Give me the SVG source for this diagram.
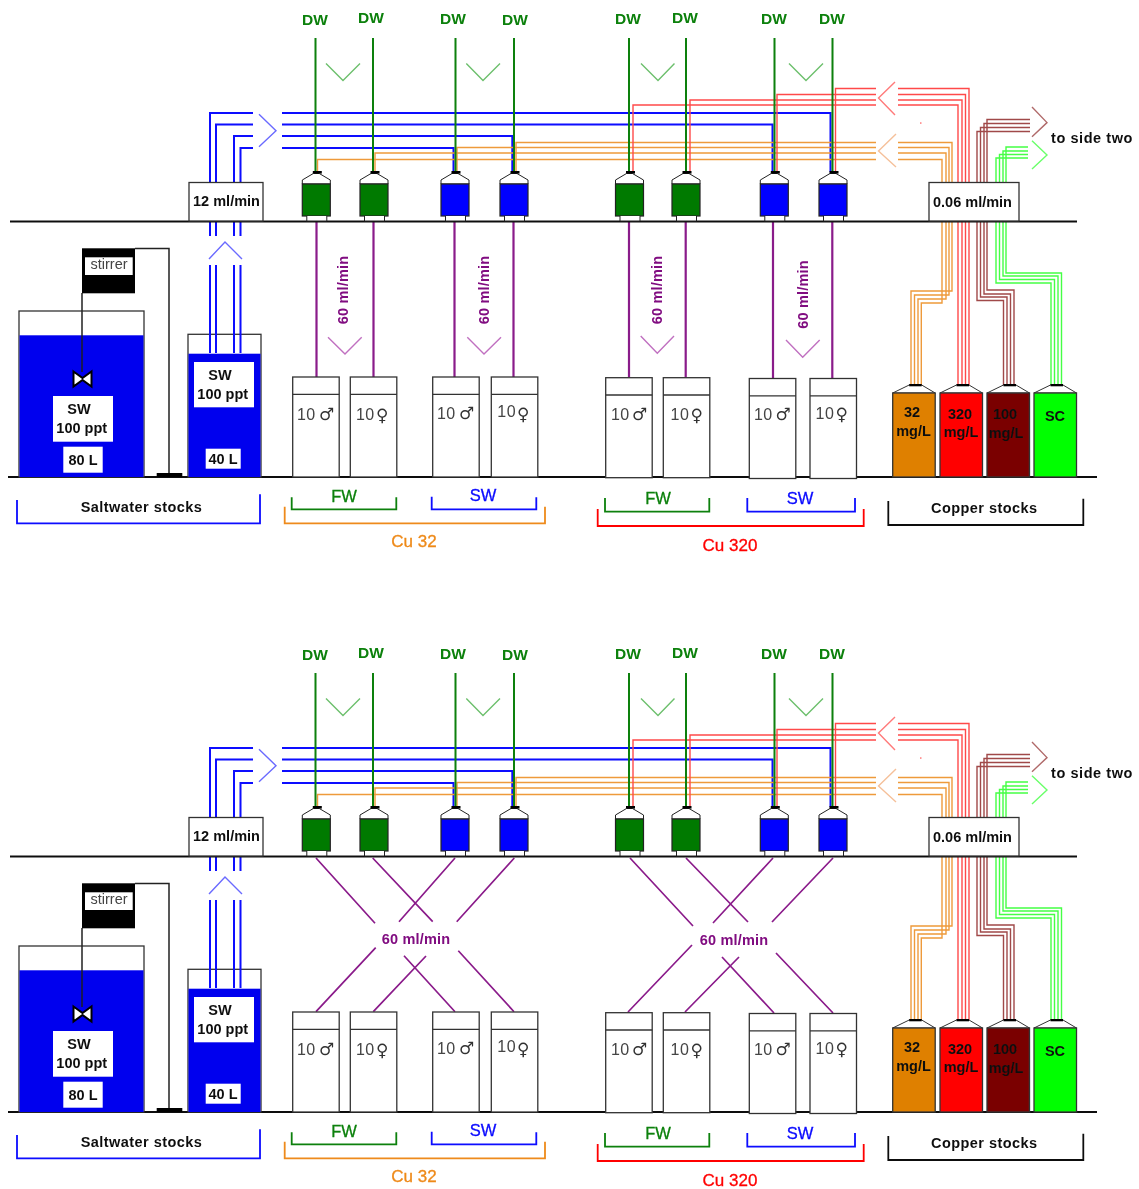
<svg xmlns="http://www.w3.org/2000/svg" width="1139" height="1189" viewBox="0 0 1139 1189">
<style>
text{font-family:"Liberation Sans",Arial,sans-serif;text-anchor:middle}
.b{font-weight:bold;font-size:14.5px;fill:#111}
.lab{letter-spacing:.45px}
.side{letter-spacing:.55px}
.dw{font-size:15.5px;font-weight:bold;fill:#0a800a}
.pt{font-size:14.5px;font-weight:bold;fill:#800a80;letter-spacing:.2px}
.sx{font-size:16px;fill:#444;letter-spacing:.5px}
.sy{font-family:"DejaVu Sans",sans-serif;font-size:17px;fill:#333}
.fw{font-size:16.5px;fill:#0a800a;stroke:#0a800a;stroke-width:.3}
.sw{font-size:16.5px;fill:#0a0aff;stroke:#0a0aff;stroke-width:.3}
.cu{font-size:17px;stroke-width:.3}
.w{fill:#fff;stroke:none}
.k{fill:none;stroke:#222;stroke-width:1.5}
.gnd{fill:none;stroke:#111;stroke-width:2}
.bl{fill:none;stroke:#0a0aff;stroke-width:2}
.or{fill:none;stroke:#ee9a3a;stroke-width:1.4}
.re{fill:none;stroke:#ff4a4a;stroke-width:1.4}
.br{fill:none;stroke:#a04848;stroke-width:1.4}
.gr{fill:none;stroke:#44ff44;stroke-width:1.4}
.dwl{fill:none;stroke:#0a800a;stroke-width:2}
.pu{fill:none;stroke:#8a1a8a;stroke-width:2.2}
.pud{fill:none;stroke:#8a1a8a;stroke-width:1.7}
.ch{fill:none;stroke-width:1.4}
.brk{fill:none;stroke-width:1.8}
</style>
<defs>
<filter id="soft" x="0" y="0" width="100%" height="100%"><feGaussianBlur stdDeviation="0.45"/></filter>
<g id="hdr">
<path d="M0 12V8L11 1.500H17L28 8V12Z" fill="#fff" stroke="#222" stroke-width="1"/>
<rect x="10.500" y="-1" width="9" height="2.600" fill="#000"/>
<rect x="0" y="12" width="28" height="32" stroke="#222" stroke-width="1.200"/>
<path d="M4.500 44V49H24.500V44" fill="#fff" stroke="#222" stroke-width="1"/>
</g>
<g id="fish">
<rect x="0" y="0" width="46.500" height="100" fill="#fff" stroke="#333" stroke-width="1.300"/>
<path d="M0 17.300H46.500" stroke="#333" stroke-width="1.300"/>
</g>
<g id="stock">
<path d="M0 9L16.500 1H29L42.500 9Z" fill="#fff" stroke="#333" stroke-width="1"/>
<rect x="16.500" y="0" width="12.500" height="2.300" fill="#000"/>
<rect x="0" y="9" width="42.500" height="84" stroke="#333" stroke-width="1.300"/>
</g>
</defs>
<g filter="url(#soft)">
<rect width="1139" height="1189" fill="#fff"/>

<g id="side-one">
<g id="connectors-1">
<path class="bl" d="M210 236V113H253M216 236V124.500H253M234 236V136H253M240.500 236V148H253"/>
<path class="bl" d="M282 113H830.500V172M282 124.500H772.500V172M282 136H512.300V172M282 148H453.500V172"/>
<path class="or" d="M876 142.500H516V172M876 147.500H457V172M876 153H375V172M876 159.500H317.500V172"/>
<path class="or" d="M898 142.500H952V291H911V385M898 147.500H949V295H914.500V385M898 153H946V299H918V385M898 159.500H942V303H921.300V385"/>
<path class="re" d="M876 88.500H835.500V172M876 94.500H777V172M876 100H690V172M876 105H633V172"/>
<path class="re" d="M898 88.500H969V385M898 94.500H965.500V385M898 100H962V385M898 105H958V385"/>
<path class="br" d="M1030 119.500H987V290H1014V385M1030 123.500H984V294H1010.500V385M1030 127.500H980.500V297H1007V385M1030 131.500H977V300.500H1003.500V385"/>
<path class="gr" d="M1028 147H1006V273H1061.500V385M1028 151H1003V276H1058V385M1028 154.500H999.500V279.500H1054.500V385M1028 158H996V283H1051V385"/>
<path class="dwl" d="M315.500 38V172M373 38V172M455.500 38V172M514 38V172M629 38V172M686 38V172M774.500 38V172M832.500 38V172"/>
<path class="pu" d="M316.500 222V377M373.500 222V377M454.500 222V377M513.500 222V377M629 222V377M685.700 222V377M773 222V378M832.300 222V378"/>
<path class="ch" stroke="#6cbf6c" d="M326 63.500L343 80.500L360 63.500M466.300 63.500L483 80.500L500 63.500M641 63.500L658 80.500L674.500 63.500M789 63.500L806 80.500L823 63.500"/>
<path class="ch" stroke="#c070c0" d="M328 337.300L345 354L361.700 337.300M467.300 337.300L484 354L501 337.300M640.700 336L657.300 353.300L674 336M786 340L802.700 357.300L819.700 340"/>
<path class="ch" stroke="#6a6aff" d="M259 114.300L276 130.700L259 146.700M209 259L225 242L242 259"/>
<path class="ch" stroke="#ff7a7a" d="M895 82L878.500 98L895 115"/>
<path class="ch" stroke="#f5c09a" d="M896 134L878.500 151L896 167"/>
<path class="ch" stroke="#b06a6a" d="M1032 107L1047 122.600L1032 136.700"/>
<path class="ch" stroke="#6aff6a" d="M1032 140.700L1047 155L1032 169"/>
<rect x="920" y="122.300" width="1.500" height="1.500" fill="#ff7a7a"/>
</g>
<path id="floor-upper-1" class="gnd" d="M10 221.500H1077"/>
<path id="floor-lower-1" class="gnd" d="M8 477H1097"/>

<g id="dw-labels-1">
<text class="dw" x="315" y="25">DW</text><text class="dw" x="371" y="22.700">DW</text><text class="dw" x="453" y="24.300">DW</text><text class="dw" x="515" y="25">DW</text><text class="dw" x="628" y="24.300">DW</text><text class="dw" x="685" y="22.700">DW</text><text class="dw" x="774" y="24.300">DW</text><text class="dw" x="832" y="24.300">DW</text>
</g>
<g id="header-tanks-1">
<g id="h1-1"><use href="#hdr" x="302.300" y="172" fill="#007a00"/></g>
<g id="h1-2"><use href="#hdr" x="360" y="172" fill="#007a00"/></g>
<g id="h1-3"><use href="#hdr" x="441" y="172" fill="#0000ff"/></g>
<g id="h1-4"><use href="#hdr" x="500" y="172" fill="#0000ff"/></g>
<g id="h1-5"><use href="#hdr" x="615.500" y="172" fill="#007a00"/></g>
<g id="h1-6"><use href="#hdr" x="672" y="172" fill="#007a00"/></g>
<g id="h1-7"><use href="#hdr" x="760.300" y="172" fill="#0000ff"/></g>
<g id="h1-8"><use href="#hdr" x="819" y="172" fill="#0000ff"/></g>
</g>
<g id="pump-sw-1"><rect x="189" y="182.500" width="74" height="38.500" fill="#fff" stroke="#333" stroke-width="1.300"/><text class="b" x="226.500" y="205.500">12 ml/min</text></g>
<g id="pump-cu-1"><rect x="929" y="182.500" width="90" height="38.500" fill="#fff" stroke="#333" stroke-width="1.300"/><text class="b" x="972.500" y="206.500">0.06 ml/min</text></g>
<text class="b side" x="1092" y="142.500">to side two</text>

<g id="rates-1">
<text class="pt" transform="translate(348 290) rotate(-90)">60 ml/min</text>
<text class="pt" transform="translate(489 290) rotate(-90)">60 ml/min</text>
<text class="pt" transform="translate(662 290) rotate(-90)">60 ml/min</text>
<text class="pt" transform="translate(808 294.500) rotate(-90)">60 ml/min</text>
</g>
<g id="fish-1">
<g id="f1-1"><use href="#fish" x="292.700" y="377"/><text class="sx" x="306.300" y="420">10</text><text class="sy" x="326.700" y="420">♂</text></g>
<g id="f1-2"><use href="#fish" x="350.300" y="377"/><text class="sx" x="365.300" y="420">10</text><text class="sy" x="382.300" y="421">♀</text></g>
<g id="f1-3"><use href="#fish" x="432.700" y="377"/><text class="sx" x="446.300" y="418.500">10</text><text class="sy" x="466.700" y="419">♂</text></g>
<g id="f1-4"><use href="#fish" x="491.300" y="377"/><text class="sx" x="506.700" y="417.300">10</text><text class="sy" x="523.300" y="419.500">♀</text></g>
<g id="f1-5"><use href="#fish" x="605.700" y="377.700"/><text class="sx" x="620.300" y="420">10</text><text class="sy" x="639.500" y="420">♂</text></g>
<g id="f1-6"><use href="#fish" x="663.300" y="377.700"/><text class="sx" x="680" y="420">10</text><text class="sy" x="696.700" y="421">♀</text></g>
<g id="f1-7"><use href="#fish" x="749.300" y="378.500"/><text class="sx" x="763.300" y="420">10</text><text class="sy" x="783" y="420">♂</text></g>
<g id="f1-8"><use href="#fish" x="810" y="378.500"/><text class="sx" x="825" y="419">10</text><text class="sy" x="841.700" y="420">♀</text></g>
</g>

<g id="sw-big-1">
<rect x="19" y="311" width="125" height="166" fill="#fff" stroke="#333" stroke-width="1.300"/>
<rect x="19.500" y="335.300" width="124" height="141.700" fill="#0000ee"/>
<rect class="w" x="53" y="396" width="60" height="45.700"/><text class="b" x="79" y="414">SW</text><text class="b" x="81.700" y="433.300">100 ppt</text>
<rect class="w" x="63.300" y="446.700" width="39.400" height="26"/><text class="b" x="83" y="465">80 L</text>
</g>
<g id="sw-small-1">
<rect x="188" y="334.300" width="73" height="142.700" fill="#fff" stroke="#333" stroke-width="1.300"/>
<rect x="188.500" y="353.700" width="72" height="123.300" fill="#0000ee"/>
<path class="bl" d="M210 265V353M216 265V353M234 265V353M240.500 265V353"/>
<rect class="w" x="194" y="362" width="60" height="45.300"/><text class="b" x="220" y="380">SW</text><text class="b" x="222.700" y="399.300">100 ppt</text>
<rect class="w" x="205.700" y="448.700" width="35" height="20"/><text class="b" x="223" y="464.300">40 L</text>
</g>
<g id="stirrer-1">
<path class="k" d="M135 248.500H169V473M82 293V372"/>
<rect x="82" y="248.300" width="53" height="45" fill="#000"/>
<rect class="w" x="85" y="257.300" width="47.700" height="17.700"/>
<text x="109" y="269" font-size="14.500" fill="#444">stirrer</text>
<rect x="156.700" y="473" width="25.600" height="4" fill="#000"/>
<path d="M73.500 371.500L82.500 378L91.500 371.500V386.500L82.500 380L73.500 386.500Z" fill="#fff" stroke="#000" stroke-width="2"/>
</g>
<g id="stocks-1">
<g id="s1-1"><use href="#stock" x="892.700" y="384" fill="#df8000"/><text class="b" x="912" y="416.700">32</text><text class="b" x="913.500" y="436">mg/L</text></g>
<g id="s1-2"><use href="#stock" x="940" y="384" fill="#ff0000"/><text class="b" x="960" y="419">320</text><text class="b" x="961" y="436.700">mg/L</text></g>
<g id="s1-3"><use href="#stock" x="987" y="384" fill="#7a0000"/><text class="b" x="1005" y="419">100</text><text class="b" x="1006" y="438">mg/L</text></g>
<g id="s1-4"><use href="#stock" x="1034" y="384" fill="#00ff00"/><text class="b" x="1055" y="421">SC</text></g>
</g>
<g id="brackets-1">
<path class="brk" stroke="#0a0aff" d="M17 500V523.300H260V494.300"/><text class="b lab" x="141.500" y="511.700">Saltwater stocks</text>
<path class="brk" stroke="#0a800a" d="M291.700 497.300V509.300H396.300V497.300"/><text class="fw" x="344" y="501.700">FW</text>
<path class="brk" stroke="#0a0aff" d="M431.700 496.700V509.300H536.300V497.300"/><text class="sw" x="483" y="501.200">SW</text>
<path class="brk" stroke="#ee8a1a" d="M284.700 506.700V523.300H545V506.700"/><text class="cu" x="414" y="546.700" fill="#ee8a1a" stroke="#ee8a1a">Cu 32</text>
<path class="brk" stroke="#0a800a" d="M605 498V511.700H709.300V498"/><text class="fw" x="658" y="504">FW</text>
<path class="brk" stroke="#0a0aff" d="M747.300 498V511.700H855V498"/><text class="sw" x="800" y="503.700">SW</text>
<path class="brk" stroke="#ff0000" d="M597.700 509V526H863.700V509"/><text class="cu" x="730" y="550.700" fill="#ff0000" stroke="#ff0000">Cu 320</text>
<path class="brk" stroke="#111" d="M888.300 501V525H1083.300V498.700"/><text class="b lab" x="984.300" y="512.700">Copper stocks</text>
</g>
</g>

<g id="side-two" transform="translate(0 635)">
<g id="connectors-2">
<path class="bl" d="M210 236V113H253M216 236V124.500H253M234 236V136H253M240.500 236V148H253"/>
<path class="bl" d="M282 113H830.500V172M282 124.500H772.500V172M282 136H512.300V172M282 148H453.500V172"/>
<path class="or" d="M876 142.500H516V172M876 147.500H457V172M876 153H375V172M876 159.500H317.500V172"/>
<path class="or" d="M898 142.500H952V291H911V385M898 147.500H949V295H914.500V385M898 153H946V299H918V385M898 159.500H942V303H921.300V385"/>
<path class="re" d="M876 88.500H835.500V172M876 94.500H777V172M876 100H690V172M876 105H633V172"/>
<path class="re" d="M898 88.500H969V385M898 94.500H965.500V385M898 100H962V385M898 105H958V385"/>
<path class="br" d="M1030 119.500H987V290H1014V385M1030 123.500H984V294H1010.500V385M1030 127.500H980.500V297H1007V385M1030 131.500H977V300.500H1003.500V385"/>
<path class="gr" d="M1028 147H1006V273H1061.500V385M1028 151H1003V276H1058V385M1028 154.500H999.500V279.500H1054.500V385M1028 158H996V283H1051V385"/>
<path class="dwl" d="M315.500 38V172M373 38V172M455.500 38V172M514 38V172M629 38V172M686 38V172M774.500 38V172M832.500 38V172"/>
<path class="pud" d="M316 223L375 288.300M404 320.700L455 376.700M372.700 223L432.700 286.700M458.300 315.700L514 376.700M455 223L399 286.700M375.700 312.700L316 376.700M514.300 223L456.700 286.700M426 321L373.300 376.700"/>
<path class="pud" d="M630 223L693 291M722 322L774 378M686 223L748 287M776 318L833 378M773 223L713 288M692 310L628 377M833 223L772 287M739 322L685 377"/>
<path class="ch" stroke="#6cbf6c" d="M326 63.500L343 80.500L360 63.500M466.300 63.500L483 80.500L500 63.500M641 63.500L658 80.500L674.500 63.500M789 63.500L806 80.500L823 63.500"/>
<path class="ch" stroke="#6a6aff" d="M259 114.300L276 130.700L259 146.700M209 259L225 242L242 259"/>
<path class="ch" stroke="#ff7a7a" d="M895 82L878.500 98L895 115"/>
<path class="ch" stroke="#f5c09a" d="M896 134L878.500 151L896 167"/>
<path class="ch" stroke="#b06a6a" d="M1032 107L1047 122.600L1032 136.700"/>
<path class="ch" stroke="#6aff6a" d="M1032 140.700L1047 155L1032 169"/>
<rect x="920" y="122.300" width="1.500" height="1.500" fill="#ff7a7a"/>
</g>
<path id="floor-upper-2" class="gnd" d="M10 221.500H1077"/>
<path id="floor-lower-2" class="gnd" d="M8 477H1097"/>

<g id="dw-labels-2">
<text class="dw" x="315" y="25">DW</text><text class="dw" x="371" y="22.700">DW</text><text class="dw" x="453" y="24.300">DW</text><text class="dw" x="515" y="25">DW</text><text class="dw" x="628" y="24.300">DW</text><text class="dw" x="685" y="22.700">DW</text><text class="dw" x="774" y="24.300">DW</text><text class="dw" x="832" y="24.300">DW</text>
</g>
<g id="header-tanks-2">
<g id="h2-1"><use href="#hdr" x="302.300" y="172" fill="#007a00"/></g>
<g id="h2-2"><use href="#hdr" x="360" y="172" fill="#007a00"/></g>
<g id="h2-3"><use href="#hdr" x="441" y="172" fill="#0000ff"/></g>
<g id="h2-4"><use href="#hdr" x="500" y="172" fill="#0000ff"/></g>
<g id="h2-5"><use href="#hdr" x="615.500" y="172" fill="#007a00"/></g>
<g id="h2-6"><use href="#hdr" x="672" y="172" fill="#007a00"/></g>
<g id="h2-7"><use href="#hdr" x="760.300" y="172" fill="#0000ff"/></g>
<g id="h2-8"><use href="#hdr" x="819" y="172" fill="#0000ff"/></g>
</g>
<g id="pump-sw-2"><rect x="189" y="182.500" width="74" height="38.500" fill="#fff" stroke="#333" stroke-width="1.300"/><text class="b" x="226.500" y="205.500">12 ml/min</text></g>
<g id="pump-cu-2"><rect x="929" y="182.500" width="90" height="38.500" fill="#fff" stroke="#333" stroke-width="1.300"/><text class="b" x="972.500" y="206.500">0.06 ml/min</text></g>
<text class="b side" x="1092" y="142.500">to side two</text>

<g id="rates-2">
<text class="pt" x="416" y="309">60 ml/min</text>
<text class="pt" x="734" y="309.700">60 ml/min</text>
</g>
<g id="fish-2">
<g id="f2-1"><use href="#fish" x="292.700" y="377"/><text class="sx" x="306.300" y="420">10</text><text class="sy" x="326.700" y="420">♂</text></g>
<g id="f2-2"><use href="#fish" x="350.300" y="377"/><text class="sx" x="365.300" y="420">10</text><text class="sy" x="382.300" y="421">♀</text></g>
<g id="f2-3"><use href="#fish" x="432.700" y="377"/><text class="sx" x="446.300" y="418.500">10</text><text class="sy" x="466.700" y="419">♂</text></g>
<g id="f2-4"><use href="#fish" x="491.300" y="377"/><text class="sx" x="506.700" y="417.300">10</text><text class="sy" x="523.300" y="419.500">♀</text></g>
<g id="f2-5"><use href="#fish" x="605.700" y="377.700"/><text class="sx" x="620.300" y="420">10</text><text class="sy" x="639.500" y="420">♂</text></g>
<g id="f2-6"><use href="#fish" x="663.300" y="377.700"/><text class="sx" x="680" y="420">10</text><text class="sy" x="696.700" y="421">♀</text></g>
<g id="f2-7"><use href="#fish" x="749.300" y="378.500"/><text class="sx" x="763.300" y="420">10</text><text class="sy" x="783" y="420">♂</text></g>
<g id="f2-8"><use href="#fish" x="810" y="378.500"/><text class="sx" x="825" y="419">10</text><text class="sy" x="841.700" y="420">♀</text></g>
</g>

<g id="sw-big-2">
<rect x="19" y="311" width="125" height="166" fill="#fff" stroke="#333" stroke-width="1.300"/>
<rect x="19.500" y="335.300" width="124" height="141.700" fill="#0000ee"/>
<rect class="w" x="53" y="396" width="60" height="45.700"/><text class="b" x="79" y="414">SW</text><text class="b" x="81.700" y="433.300">100 ppt</text>
<rect class="w" x="63.300" y="446.700" width="39.400" height="26"/><text class="b" x="83" y="465">80 L</text>
</g>
<g id="sw-small-2">
<rect x="188" y="334.300" width="73" height="142.700" fill="#fff" stroke="#333" stroke-width="1.300"/>
<rect x="188.500" y="353.700" width="72" height="123.300" fill="#0000ee"/>
<path class="bl" d="M210 265V353M216 265V353M234 265V353M240.500 265V353"/>
<rect class="w" x="194" y="362" width="60" height="45.300"/><text class="b" x="220" y="380">SW</text><text class="b" x="222.700" y="399.300">100 ppt</text>
<rect class="w" x="205.700" y="448.700" width="35" height="20"/><text class="b" x="223" y="464.300">40 L</text>
</g>
<g id="stirrer-2">
<path class="k" d="M135 248.500H169V473M82 293V372"/>
<rect x="82" y="248.300" width="53" height="45" fill="#000"/>
<rect class="w" x="85" y="257.300" width="47.700" height="17.700"/>
<text x="109" y="269" font-size="14.500" fill="#444">stirrer</text>
<rect x="156.700" y="473" width="25.600" height="4" fill="#000"/>
<path d="M73.500 371.500L82.500 378L91.500 371.500V386.500L82.500 380L73.500 386.500Z" fill="#fff" stroke="#000" stroke-width="2"/>
</g>
<g id="stocks-2">
<g id="s2-1"><use href="#stock" x="892.700" y="384" fill="#df8000"/><text class="b" x="912" y="416.700">32</text><text class="b" x="913.500" y="436">mg/L</text></g>
<g id="s2-2"><use href="#stock" x="940" y="384" fill="#ff0000"/><text class="b" x="960" y="419">320</text><text class="b" x="961" y="436.700">mg/L</text></g>
<g id="s2-3"><use href="#stock" x="987" y="384" fill="#7a0000"/><text class="b" x="1005" y="419">100</text><text class="b" x="1006" y="438">mg/L</text></g>
<g id="s2-4"><use href="#stock" x="1034" y="384" fill="#00ff00"/><text class="b" x="1055" y="421">SC</text></g>
</g>
<g id="brackets-2">
<path class="brk" stroke="#0a0aff" d="M17 500V523.300H260V494.300"/><text class="b lab" x="141.500" y="511.700">Saltwater stocks</text>
<path class="brk" stroke="#0a800a" d="M291.700 497.300V509.300H396.300V497.300"/><text class="fw" x="344" y="501.700">FW</text>
<path class="brk" stroke="#0a0aff" d="M431.700 496.700V509.300H536.300V497.300"/><text class="sw" x="483" y="501.200">SW</text>
<path class="brk" stroke="#ee8a1a" d="M284.700 506.700V523.300H545V506.700"/><text class="cu" x="414" y="546.700" fill="#ee8a1a" stroke="#ee8a1a">Cu 32</text>
<path class="brk" stroke="#0a800a" d="M605 498V511.700H709.300V498"/><text class="fw" x="658" y="504">FW</text>
<path class="brk" stroke="#0a0aff" d="M747.300 498V511.700H855V498"/><text class="sw" x="800" y="503.700">SW</text>
<path class="brk" stroke="#ff0000" d="M597.700 509V526H863.700V509"/><text class="cu" x="730" y="550.700" fill="#ff0000" stroke="#ff0000">Cu 320</text>
<path class="brk" stroke="#111" d="M888.300 501V525H1083.300V498.700"/><text class="b lab" x="984.300" y="512.700">Copper stocks</text>
</g>
</g>
</g>
</svg>
